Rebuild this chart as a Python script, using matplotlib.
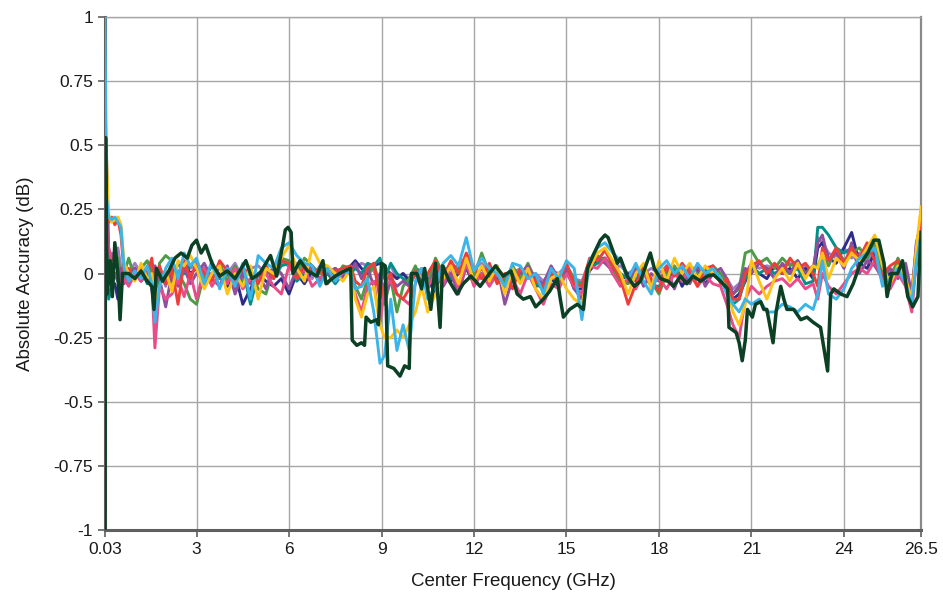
import matplotlib.pyplot as plt
from matplotlib.ticker import FixedLocator, FixedFormatter

plt.rcParams['font.family'] = ['Liberation Sans', 'DejaVu Sans']

# common frequency grid (GHz) for the coloured traces
freq = [0.03, 0.08, 0.15, 0.25, 0.35, 0.45, 0.55, 0.65, 0.8, 1.0,
        1.2, 1.4, 1.55, 1.65, 1.8, 2.0, 2.2, 2.4, 2.6, 2.8,
        3.0, 3.25, 3.5, 3.75, 4.0, 4.25, 4.5, 4.75, 5.0, 5.25,
        5.5, 5.75, 6.0, 6.25, 6.5, 6.75, 7.0, 7.25, 7.5, 7.75,
        8.0, 8.15, 8.35, 8.55, 8.75, 8.95, 9.1, 9.3, 9.5, 9.7,
        9.9, 10.1, 10.3, 10.5, 10.75, 11.0, 11.25, 11.5, 11.75, 12.0,
        12.25, 12.5, 12.75, 13.0, 13.25, 13.5, 13.75, 14.0, 14.25, 14.5,
        14.75, 15.0, 15.25, 15.5, 15.75, 16.0, 16.25, 16.5, 16.75, 17.0,
        17.25, 17.5, 17.75, 18.0, 18.25, 18.5, 18.75, 19.0, 19.25, 19.5,
        19.75, 20.0, 20.2, 20.4, 20.6, 20.8, 21.0, 21.25, 21.5, 21.75,
        22.0, 22.25, 22.5, 22.75, 23.0, 23.15, 23.3, 23.5, 23.75, 24.0,
        24.25, 24.5, 24.75, 25.0, 25.25, 25.5, 25.75, 26.0, 26.2, 26.35, 26.5]

lavender = [0.45, 0.12, 0.05, 0.08, 0.06, 0.1, 0.02, 0.03, 0.0, 0.04,
            0.0, -0.02, 0.03, -0.06, 0.02, -0.05, 0.04, 0.0, 0.05, 0.02,
            0.03, 0.02, -0.01, 0.02, 0.0, 0.04, -0.02, 0.02, 0.03, 0.0,
            0.02, 0.04, 0.03, 0.04, 0.02, -0.02, 0.03, 0.0, 0.01, 0.0,
            0.03, 0.02, 0.04, 0.03, 0.01, -0.03, 0.0, 0.03, -0.02, 0.0,
            -0.02, 0.02, 0.01, -0.02, 0.03, 0.02, 0.0, 0.04, 0.06, 0.02,
            0.04, 0.0, 0.02, -0.02, 0.0, 0.02, -0.01, 0.0, -0.03, 0.01,
            0.0, 0.03, -0.02, -0.03, 0.05, 0.06, 0.06, 0.02, 0.03, 0.0,
            0.02, 0.0, 0.02, 0.0, 0.03, 0.02, 0.0, 0.03, 0.01, 0.0,
            0.02, 0.0, -0.02, -0.06, -0.04, 0.0, 0.04, 0.02, 0.03, 0.02,
            0.03, 0.04, 0.02, 0.03, 0.0, 0.14, 0.12, 0.08, 0.06, 0.1,
            0.06, 0.08, 0.04, 0.1, 0.02, 0.0, 0.04, 0.02, -0.12, 0.12, 0.18]

navy = [0.4, 0.1, 0.0, -0.06, -0.04, -0.1, -0.02, 0.0, -0.03, 0.02,
        -0.03, 0.0, -0.05, -0.15, 0.0, -0.04, 0.02, -0.03, 0.04, 0.0,
        0.02, -0.04, 0.0, 0.03, -0.05, 0.0, -0.12, -0.06, 0.0, -0.03,
        -0.05, -0.02, -0.08, 0.0, -0.04, 0.01, -0.03, 0.0, 0.02, -0.01,
        0.03, 0.05, 0.02, 0.0, 0.03, 0.04, 0.02, 0.0, -0.02, 0.0,
        -0.03, 0.0, -0.05, -0.02, -0.08, 0.0, -0.03, 0.0, 0.02, -0.04,
        0.0, -0.03, 0.0, -0.06, 0.0, -0.03, 0.02, -0.05, -0.04, -0.02,
        -0.05, 0.02, -0.06, -0.06, 0.01, 0.05, 0.06, 0.0, -0.03, 0.0,
        -0.03, 0.02, -0.04, -0.02, -0.03, 0.02, -0.05, 0.0, 0.02, -0.04,
        0.0, -0.02, -0.03, -0.1, -0.08, -0.03, 0.02, 0.0, -0.02, 0.03,
        0.0, 0.02, -0.02, 0.02, -0.02, 0.1, 0.12, 0.06, 0.04, 0.1,
        0.16, 0.04, 0.02, 0.08, -0.02, 0.0, 0.02, -0.02, -0.1, 0.06, 0.18]

teal = [0.35, 0.05, -0.1, -0.05, 0.0, -0.03, 0.02, 0.0, -0.04, 0.0,
        0.02, -0.04, 0.0, -0.2, -0.02, 0.0, -0.03, 0.04, 0.0, 0.03,
        0.05, -0.02, 0.03, -0.02, 0.0, -0.06, 0.02, -0.12, 0.0, 0.02,
        -0.02, 0.03, 0.04, -0.03, 0.0, 0.02, -0.02, 0.0, -0.04, 0.0,
        0.0, 0.02, 0.0, 0.04, 0.03, 0.06, -0.02, 0.04, 0.0, -0.02,
        -0.04, 0.02, 0.0, -0.04, 0.0, 0.03, -0.02, 0.02, 0.04, 0.0,
        -0.02, 0.02, -0.02, -0.04, 0.02, -0.02, 0.0, -0.04, -0.06, -0.02,
        -0.02, 0.0, -0.03, -0.04, 0.02, 0.04, 0.05, 0.03, 0.0, -0.02,
        -0.02, 0.0, -0.05, -0.05, -0.01, 0.02, -0.03, 0.0, -0.02, 0.01,
        0.0, -0.03, -0.05, -0.12, -0.1, -0.02, 0.03, 0.0, 0.02, 0.0,
        0.02, 0.0, 0.02, -0.04, -0.03, 0.18, 0.18, 0.15, 0.1, 0.08,
        0.1, 0.05, 0.08, 0.1, 0.0, -0.04, 0.04, -0.02, -0.1, 0.05, 0.18]

green = [0.65, 0.15, 0.05, 0.0, 0.03, 0.06, -0.02, 0.0, 0.06, -0.02,
         0.02, 0.05, 0.0, -0.1, 0.04, 0.07, 0.05, 0.0, -0.04, -0.1,
         -0.12, 0.0, -0.02, 0.04, -0.03, 0.03, -0.04, 0.02, -0.06, -0.08,
         0.02, 0.06, 0.05, 0.0, 0.06, 0.03, 0.0, 0.02, -0.02, 0.03,
         0.02, -0.05, -0.1, -0.02, 0.04, -0.05, -0.12, -0.02, -0.15, -0.05,
         -0.02, 0.03, -0.04, -0.05, 0.06, 0.0, 0.04, 0.01, 0.05, -0.01,
         0.08, 0.0, 0.02, -0.03, 0.03, -0.02, 0.04, -0.03, -0.05, 0.0,
         -0.04, 0.03, -0.02, -0.05, 0.04, 0.07, 0.05, 0.02, -0.03, -0.04,
         0.0, 0.03, -0.03, -0.08, 0.0, 0.03, -0.02, 0.03, 0.0, -0.02,
         0.03, 0.0, -0.04, -0.08, -0.06, 0.08, 0.09, 0.04, 0.06, 0.02,
         0.06, 0.03, 0.05, 0.0, 0.03, 0.03, 0.07, 0.03, 0.1, 0.05,
         0.08, 0.1, 0.06, 0.12, 0.02, -0.03, 0.06, 0.0, -0.08, 0.1, 0.22]

purple = [0.5, 0.47, 0.1, 0.02, 0.0, -0.03, 0.02, -0.04, 0.0, 0.02,
          -0.02, 0.01, -0.06, 0.03, -0.02, -0.13, 0.0, -0.05, 0.02, -0.04,
          0.0, 0.04, -0.02, -0.05, 0.03, -0.08, 0.0, -0.04, 0.0, -0.06,
          0.03, 0.0, -0.06, 0.02, 0.0, 0.03, -0.03, 0.0, 0.02, -0.02,
          0.01, 0.04, -0.02, 0.02, -0.05, 0.0, -0.1, -0.02, -0.05, -0.03,
          -0.05, 0.0, -0.03, -0.06, 0.02, -0.05, 0.0, -0.08, 0.03, -0.02,
          0.02, -0.02, 0.03, -0.12, -0.02, 0.0, 0.03, -0.02, -0.04, 0.03,
          -0.02, 0.02, -0.06, -0.1, 0.04, 0.06, 0.04, 0.01, 0.06, -0.03,
          0.02, -0.05, 0.0, -0.03, 0.02, -0.06, 0.02, -0.04, 0.03, -0.05,
          0.0, 0.02, -0.02, -0.08, -0.05, 0.02, 0.0, 0.04, 0.02, -0.02,
          0.04, 0.0, 0.05, 0.0, 0.02, 0.12, 0.15, 0.05, 0.08, 0.02,
          0.12, 0.0, 0.05, 0.03, -0.02, 0.02, -0.02, 0.04, -0.08, 0.12, 0.2]

pink = [0.6, 0.2, 0.1, 0.05, 0.08, 0.0, -0.05, -0.02, -0.05, 0.0,
        -0.03, 0.02, -0.03, -0.29, -0.05, -0.1, -0.08, -0.02, -0.09, 0.0,
        -0.1, 0.02, -0.05, 0.0, -0.04, 0.02, -0.06, -0.02, -0.03, 0.0,
        -0.05, -0.08, 0.03, -0.02, 0.02, -0.05, -0.02, 0.02, -0.03, 0.0,
        0.02, -0.08, -0.15, -0.05, -0.03, -0.2, -0.05, -0.03, -0.08, -0.1,
        -0.12, -0.04, 0.02, -0.05, 0.0, -0.04, 0.03, -0.06, 0.04, -0.05,
        0.0, -0.05, 0.0, -0.05, -0.02, -0.08, 0.0, -0.06, -0.12, -0.04,
        -0.06, 0.0, -0.05, -0.08, 0.03, 0.02, 0.06, 0.0, -0.05, -0.02,
        -0.06, 0.0, -0.04, -0.02, -0.06, 0.0, -0.03, 0.02, -0.05, -0.01,
        -0.04, -0.05, -0.12, -0.2, -0.25, -0.1, -0.05, -0.08, -0.05, -0.03,
        -0.02, -0.05, -0.02, -0.06, -0.04, -0.1, 0.0, -0.05, -0.08, -0.04,
        0.0, 0.02, 0.0, 0.05, -0.03, -0.06, 0.0, -0.05, -0.15, 0.05, 0.15]

red = [0.75, 0.35, 0.2, 0.22, 0.19, 0.21, 0.15, 0.0, 0.02, -0.02,
       0.03, 0.0, 0.06, -0.05, 0.03, -0.04, 0.02, -0.12, 0.05, -0.02,
       0.04, 0.0, -0.03, 0.05, 0.01, -0.03, 0.02, 0.0, -0.04, 0.03,
       -0.02, 0.05, 0.04, -0.02, 0.03, 0.0, 0.02, -0.04, 0.01, 0.02,
       0.03, -0.03, -0.05, 0.02, 0.04, -0.1, -0.04, 0.0, -0.08, -0.1,
       -0.06, 0.01, -0.05, 0.0, 0.05, -0.02, 0.05, 0.0, 0.08, 0.02,
       -0.02, 0.04, -0.04, 0.0, -0.06, 0.02, 0.0, -0.03, -0.05, 0.0,
       -0.03, 0.04, -0.04, -0.05, 0.06, 0.05, 0.09, 0.03, -0.02, -0.12,
       -0.04, 0.02, -0.02, -0.07, 0.03, -0.01, 0.04, 0.0, -0.05, 0.02,
       0.03, -0.04, -0.02, -0.1, -0.1, 0.0, 0.03, 0.05, 0.0, 0.04,
       0.0, 0.06, 0.02, 0.04, 0.0, -0.05, 0.1, 0.05, 0.1, 0.04,
       0.1, 0.06, 0.12, 0.05, 0.0, 0.03, 0.05, -0.03, -0.1, 0.08, 0.2]

yellow = [0.55, 0.45, 0.23, 0.2, 0.21, 0.22, 0.19, 0.04, 0.0, -0.03,
          0.04, -0.02, 0.0, -0.12, -0.05, 0.01, -0.07, 0.05, 0.03, 0.07,
          0.02, -0.06, 0.0, 0.03, -0.08, 0.0, -0.05, 0.03, -0.1, 0.02,
          0.0, 0.06, 0.11, 0.02, -0.03, 0.1, 0.04, 0.03, 0.0, -0.03,
          0.02, -0.1, -0.17, -0.08, -0.05, -0.2, -0.25, -0.25, -0.22, -0.25,
          -0.2, -0.15, -0.05, -0.15, -0.08, -0.02, 0.03, -0.04, 0.06, -0.03,
          0.03, -0.03, 0.03, -0.08, 0.02, -0.04, 0.02, -0.06, -0.1, -0.02,
          0.0, -0.06, -0.1, -0.12, 0.02, 0.08, 0.1, 0.05, 0.0, -0.08,
          0.0, 0.04, -0.06, 0.05, -0.03, 0.06, 0.0, 0.04, -0.02, 0.03,
          0.0, -0.02, -0.06, -0.15, -0.2, -0.12, 0.05, -0.03, -0.1, -0.02,
          0.02, -0.03, 0.04, -0.02, 0.03, 0.02, 0.08, -0.02, 0.06, 0.03,
          0.08, 0.05, 0.1, 0.15, 0.03, -0.04, 0.03, -0.02, -0.1, 0.1, 0.26]

blue = [1.0, 0.3, 0.22, 0.21, 0.22, 0.2, 0.18, 0.02, -0.03, 0.01,
        -0.02, 0.03, -0.04, -0.19, -0.05, 0.02, 0.06, -0.02, 0.08, 0.03,
        0.06, -0.04, 0.05, -0.06, 0.02, -0.05, 0.04, -0.1, 0.07, 0.04,
        0.02, 0.1, 0.12, 0.07, 0.04, 0.03, -0.05, 0.02, -0.03, 0.01,
        0.0, -0.06, -0.05, -0.02, -0.15, -0.35, -0.32, -0.1, -0.3, -0.2,
        -0.3, -0.03, 0.02, -0.1, -0.05, 0.04, 0.07, 0.03, 0.14, 0.01,
        0.06, 0.02, 0.0, -0.05, 0.04, 0.03, -0.02, 0.0, -0.08, 0.02,
        -0.02, 0.05, 0.02, -0.18, 0.05, 0.1, 0.12, 0.08, 0.05, -0.02,
        0.04, -0.03, -0.08, 0.02, 0.05, 0.0, 0.03, -0.02, 0.04, 0.0,
        0.02, -0.02, -0.08, -0.12, -0.15, -0.1, -0.12, -0.1, -0.15, -0.15,
        -0.12, -0.13, -0.15, -0.12, -0.14, -0.08, 0.05, -0.08, -0.1, -0.06,
        0.02, 0.06, 0.08, 0.1, -0.05, -0.02, 0.02, -0.04, -0.12, 0.05, 0.15]

# the dark green reference trace, read on its own finer grid
dark_freq = [0.03, 0.05, 0.1, 0.2, 0.27, 0.35, 0.45, 0.52, 0.6, 0.8,
             1.0, 1.2, 1.4, 1.55, 1.62, 1.7, 1.9, 2.1, 2.3, 2.5,
             2.7, 2.85, 3.0, 3.15, 3.3, 3.5, 3.75, 4.0, 4.25, 4.6,
             4.8, 5.05, 5.4, 5.6, 5.78, 5.88, 5.97, 6.07, 6.13, 6.36,
             6.6, 6.9, 7.1, 7.2, 7.5, 7.8, 8.0, 8.05, 8.2, 8.35,
             8.45, 8.5, 8.65, 8.85, 8.9, 9.0, 9.12, 9.2, 9.4, 9.6,
             9.75, 9.9, 9.97, 10.15, 10.3, 10.4, 10.6, 10.75, 10.9, 10.98,
             11.2, 11.45, 11.65, 11.9, 12.2, 12.5, 12.7, 12.95, 13.2, 13.4,
             13.6, 13.83, 14.0, 14.25, 14.45, 14.7, 14.8, 14.9, 15.1, 15.35,
             15.55, 15.68, 15.9, 16.1, 16.25, 16.35, 16.5, 16.65, 16.75, 16.97,
             17.2, 17.4, 17.6, 17.72, 17.85, 18.05, 18.3, 18.47, 18.7, 18.9,
             19.1, 19.35, 19.57, 19.77, 20.0, 20.23, 20.27, 20.5, 20.6, 20.7,
             20.8, 20.87, 21.03, 21.13, 21.3, 21.4, 21.5, 21.7, 21.8, 21.95,
             22.05, 22.15, 22.37, 22.6, 22.8, 23.0, 23.24, 23.47, 23.57, 23.67,
             23.9, 24.1, 24.3, 24.5, 24.77, 24.97, 25.13, 25.3, 25.4, 25.55,
             25.74, 25.9, 26.07, 26.23, 26.4, 26.5]
dark = [-1.0, 0.53, -0.08, 0.05, -0.09, 0.12, 0.0, -0.18, 0.0, 0.0,
        -0.02, 0.01, -0.03, -0.05, -0.14, 0.02, -0.03, 0.01, 0.06, 0.08,
        0.06, 0.11, 0.13, 0.08, 0.11, 0.04, -0.01, 0.01, -0.02, 0.05,
        -0.02, 0.0, 0.07, -0.01, 0.1, 0.17, 0.18, 0.16, 0.0, 0.05,
        0.01, -0.01, 0.05, -0.04, -0.01, 0.01, 0.02, -0.26, -0.28, -0.27,
        -0.28, -0.17, -0.19, -0.18, -0.2, 0.04, 0.03, -0.36, -0.37, -0.4,
        -0.36, -0.37, 0.0, 0.0, -0.06, 0.02, -0.14, 0.04, -0.21, 0.03,
        -0.03, -0.08, -0.04, -0.01, -0.05, 0.0, 0.03, -0.01, 0.01, -0.08,
        -0.1, -0.09, -0.13, -0.1, -0.07, -0.02, -0.1, -0.17, -0.14, -0.12,
        -0.14, 0.02, 0.08, 0.13, 0.15, 0.14, 0.09, 0.04, 0.06, -0.01,
        -0.05, -0.03, 0.04, 0.08, 0.02, -0.02, -0.03, -0.05, -0.01, -0.04,
        -0.01, -0.03, -0.01, -0.005, -0.03, -0.06, -0.21, -0.23, -0.27, -0.34,
        -0.26, -0.14, -0.17, -0.12, -0.11, -0.14, -0.14, -0.27, -0.15, -0.05,
        -0.1, -0.14, -0.14, -0.18, -0.17, -0.19, -0.21, -0.38, -0.08, -0.06,
        -0.08, -0.09, -0.04, 0.03, 0.08, 0.13, 0.13, 0.04, -0.09, 0.0,
        0.0, 0.05, -0.09, -0.13, -0.09, 0.16]

series = [lavender, navy, teal, green, purple, pink, red, yellow, blue]
colors = ['#a07cc0', '#2e2c88', '#00908a', '#4d9a47', '#8e4f9d',
          '#e84c8a', '#ee3e3a', '#ffc317', '#3bb5e8']

xticks = [0.03, 3, 6, 9, 12, 15, 18, 21, 24, 26.5]
xlabels = ['0.03', '3', '6', '9', '12', '15', '18', '21', '24', '26.5']
yticks = [1, 0.75, 0.5, 0.25, 0, -0.25, -0.5, -0.75, -1]
ylabels = ['1', '0.75', '0.5', '0.25', '0', '-0.25', '-0.5', '-0.75', '-1']

fig = plt.figure(figsize=(9.43, 5.94), dpi=100)
ax = fig.add_axes([0.1113, 0.1077, 0.8654, 0.8637])

for s, c in zip(series, colors):
    ax.plot(freq, s, color=c, linewidth=2.1, zorder=3)
ax.plot(dark_freq, dark, color='#0b4024', linewidth=2.5, zorder=4)

ax.set_xlim(0.03, 26.5)
ax.set_ylim(-1, 1)
ax.xaxis.set_major_locator(FixedLocator(xticks))
ax.xaxis.set_major_formatter(FixedFormatter(xlabels))
ax.yaxis.set_major_locator(FixedLocator(yticks))
ax.yaxis.set_major_formatter(FixedFormatter(ylabels))
ax.grid(True, color='#a6a6a6', linewidth=1.0, zorder=1)
ax.set_axisbelow(True)

for side in ['left', 'bottom']:
    ax.spines[side].set_color('#5f5f5f')
    ax.spines[side].set_linewidth(2.2)
ax.spines['right'].set_color('#8a8a8a')
ax.spines['right'].set_linewidth(1.6)
ax.spines['top'].set_color('#a6a6a6')
ax.spines['top'].set_linewidth(1.0)

ax.tick_params(axis='both', labelsize=12.5, colors='#5f5f5f', labelcolor='#1a1a1a',
               length=5, width=1.2)
ax.set_xlabel('Center Frequency (GHz)', fontsize=13.5, color='#1a1a1a', labelpad=12)
ax.set_ylabel('Absolute Accuracy (dB)', fontsize=13.5, color='#1a1a1a', labelpad=14)

plt.savefig('out.png', dpi=100)
